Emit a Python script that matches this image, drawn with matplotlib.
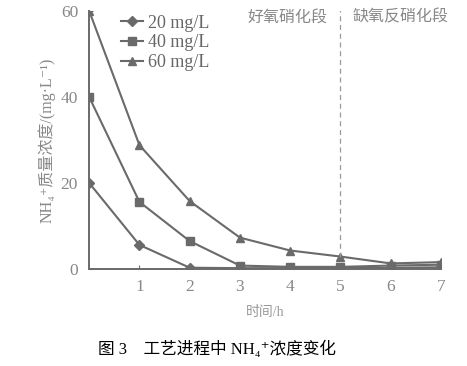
import matplotlib
matplotlib.use("Agg")
import matplotlib.pyplot as plt

plt.rcParams['font.family'] = ['Liberation Serif', 'DejaVu Serif', 'Noto Sans CJK SC']

hours = [0, 1, 2, 3, 4, 5, 6, 7]
c20 = [20, 5.6, 0.3, 0.2, 0.2, 0.2, 0.3, 0.4]
c40 = [40, 15.6, 6.5, 0.8, 0.5, 0.5, 0.8, 1.0]
c60 = [60, 28.8, 15.8, 7.3, 4.3, 2.9, 1.3, 1.6]
labels = ['20 mg/L', '40 mg/L', '60 mg/L']
xticks = [1, 2, 3, 4, 5, 6, 7]
yticks = [0, 20, 40, 60]

gray = '#6a6a6a'
fig = plt.figure(figsize=(4.67, 3.66), dpi=100)
ax = fig.add_axes([0.191, 0.265, 0.753, 0.705])

ax.plot(hours, c20, marker='D', ms=5, color=gray, lw=1.5, label=labels[0])
ax.plot(hours, c40, marker='s', ms=6, color=gray, lw=1.5, label=labels[1])
ax.plot(hours, c60, marker='^', ms=6, color=gray, lw=1.5, label=labels[2])

ax.plot([5, 5], [c60[5], 61], ls=(0, (4, 3)), color='#999999', lw=0.9)

ax.set_xlim(0, 7)
ax.set_ylim(0, 60)
ax.set_xticks(xticks)
ax.set_yticks(yticks)
ax.tick_params(direction='in', length=3, colors=gray, labelsize=12.5, labelcolor='#888888')
ax.tick_params(axis='x', pad=7)
ax.tick_params(axis='y', pad=8)
for s in ['top', 'right']:
    ax.spines[s].set_visible(False)
for s in ['left', 'bottom']:
    ax.spines[s].set_color(gray)
    ax.spines[s].set_linewidth(1.4)

ax.set_xlabel('时间/h', fontsize=10, color='#999999', labelpad=8)
ax.set_ylabel('NH₄⁺质量浓度/(mg·L⁻¹)', fontsize=11.5, color='#888888', labelpad=4)

ax.text(3.95, 58.5, '好氧硝化段', fontsize=11.5, color='#888888', ha='center', va='center')
ax.text(6.2, 58.5, '缺氧反硝化段', fontsize=11.5, color='#888888', ha='center', va='center')

leg = ax.legend(loc='upper left', bbox_to_anchor=(0.055, 1.035), frameon=False,
                fontsize=13, handlelength=1.2, handletextpad=0.3, labelspacing=0.15,
                borderpad=0.2)
for t in leg.get_texts():
    t.set_color('#666666')

fig.text(0.465, 0.045, '图 3    工艺进程中 NH₄⁺浓度变化', fontsize=12, color='black', ha='center', va='center')

fig.savefig('out.png', dpi=100)
